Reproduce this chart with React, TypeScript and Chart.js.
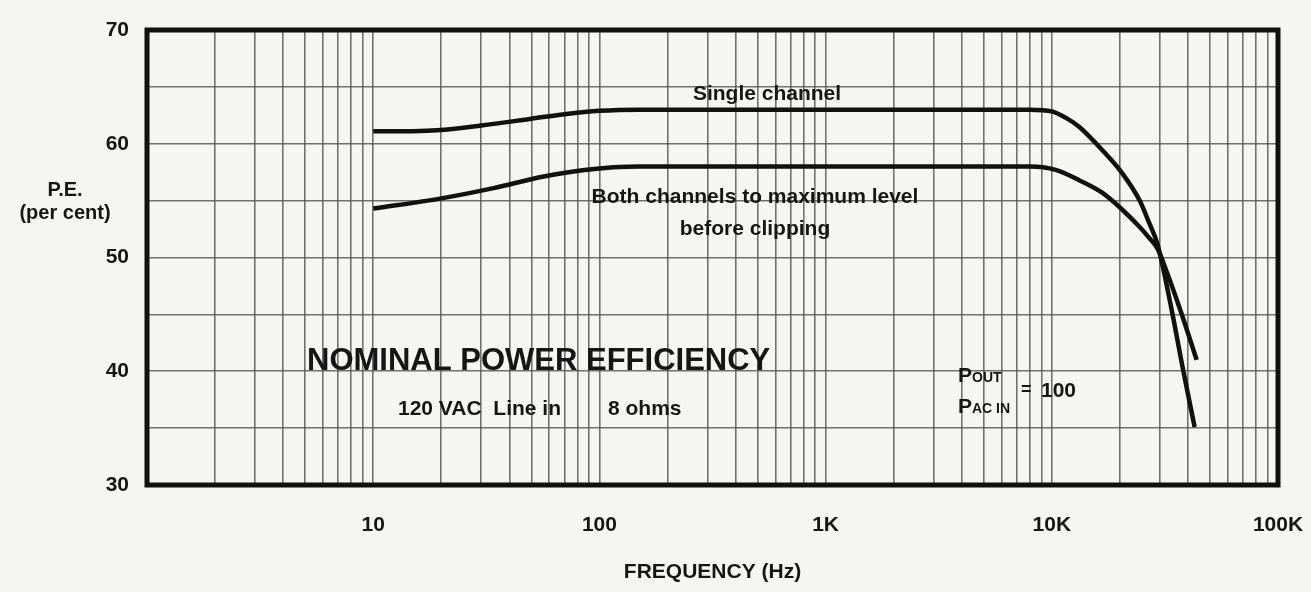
import React, { useEffect, useRef } from "react";
import { Chart, registerables } from "chart.js";

Chart.register(...registerables);

// ---- Data ----
const singleFreq = [10, 15, 20, 30, 50, 70, 100, 150, 1000, 5000, 8000, 10000, 11500, 13200, 16700, 20500, 24400, 27000, 29300, 33800, 38000, 42800];
const singleVals = [61.1, 61.1, 61.2, 61.6, 62.2, 62.6, 62.9, 63.0, 63.0, 63.0, 63.0, 62.85, 62.3, 61.5, 59.45, 57.4, 55.05, 53.0, 51.2, 45.5, 40.2, 35.1];

const bothFreq = [10, 20, 34, 56, 86, 150, 1000, 8000, 10400, 13200, 16700, 20500, 24400, 27000, 29300, 32000, 37400, 43700];
const bothVals = [54.3, 55.2, 56.1, 57.1, 57.7, 58.0, 58.0, 58.0, 57.7, 56.8, 55.7, 54.2, 52.7, 51.7, 50.8, 48.9, 45.1, 41.0];

const xTickValues = [10, 100, 1000, 10000, 100000];
const xTickLabels = ["10", "100", "1K", "10K", "100K"];
const xDecades = [1, 10, 100, 1000, 10000];
const xMultipliers = [1, 2, 3, 4, 5, 6, 7, 8, 9];
const yTickLabels = [30, 40, 50, 60, 70];

const FONT = "'Liberation Sans', Arial, sans-serif";
const INK = "#161616";
const GRID = "rgba(80,80,80,0.8)";
const BG = "#f5f5f3";

const paperPlugin = {
  id: "paper",
  beforeDraw(chart: any) {
    const { ctx, width, height } = chart;
    ctx.save();
    ctx.fillStyle = BG;
    ctx.fillRect(0, 0, width, height);
    ctx.restore();
  },
  beforeDatasetsDraw(chart: any) {
    const { ctx, chartArea: a } = chart;
    ctx.save();
    ctx.strokeStyle = "#111";
    ctx.lineWidth = 5;
    ctx.lineJoin = "miter";
    ctx.strokeRect(a.left, a.top, a.right - a.left, a.bottom - a.top);
    ctx.restore();
  },
  afterDraw(chart: any) {
    const { ctx } = chart;
    ctx.save();
    ctx.fillStyle = INK;
    const t = (s: string, x: number, y: number, size: number, align: CanvasTextAlign = "left") => {
      ctx.font = `bold ${size}px ${FONT}`;
      ctx.textAlign = align;
      ctx.textBaseline = "alphabetic";
      ctx.fillText(s, x, y);
    };
    // Y axis title
    ctx.font = `bold 20px ${FONT}`;
    ctx.textAlign = "center";
    ctx.textBaseline = "middle";
    ctx.fillText("P.E.", 65, 190);
    ctx.fillText("(per cent)", 65, 213);

    t("Single channel", 767, 100, 21, "center");
    t("Both channels to maximum level", 755, 203, 21, "center");
    t("before clipping", 755, 235, 21, "center");
    t("NOMINAL POWER EFFICIENCY", 307, 370, 31);
    t("120 VAC  Line in", 398, 415, 21);
    t("8 ohms", 608, 415, 21);

    // P_OUT / P_AC IN = 100 (small caps)
    t("P", 958, 382, 21);
    ctx.font = `bold 21px ${FONT}`;
    const pw = ctx.measureText("P").width;
    t("OUT", 958 + pw, 382, 14);
    t("P", 958, 413, 21);
    t("AC IN", 958 + pw, 413, 14);
    t("=", 1021, 395, 18);
    t("100", 1041, 397, 21);
    ctx.restore();
  },
};

export default function App() {
  const ref = useRef<HTMLCanvasElement | null>(null);

  useEffect(() => {
    document.body.style.margin = "0";
    const canvas = ref.current;
    if (!canvas) return;

    const gridTicks: number[] = [];
    xDecades.forEach((d) => xMultipliers.forEach((m) => gridTicks.push(m * d)));
    gridTicks.push(100000);

    const chart = new Chart(canvas, {
      type: "line",
      data: {
        datasets: [
          {
            label: "Single channel",
            data: singleFreq.map((f, i) => ({ x: f, y: singleVals[i] })),
            borderColor: "#111",
            borderWidth: 4.5,
            pointRadius: 0,
            fill: false,
            cubicInterpolationMode: "monotone",
          },
          {
            label: "Both channels to maximum level before clipping",
            data: bothFreq.map((f, i) => ({ x: f, y: bothVals[i] })),
            borderColor: "#111",
            borderWidth: 4.5,
            pointRadius: 0,
            fill: false,
            cubicInterpolationMode: "monotone",
          },
        ],
      },
      options: {
        animation: false,
        responsive: true,
        maintainAspectRatio: false,
        layout: { padding: { top: 30, right: 33, left: 0, bottom: 0 } },
        plugins: { legend: { display: false }, tooltip: { enabled: false } },
        scales: {
          x: {
            type: "logarithmic",
            min: 1,
            max: 100000,
            afterBuildTicks: (scale: any) => {
              scale.ticks = gridTicks.map((v) => ({ value: v }));
            },
            afterFit: (scale: any) => {
              scale.height = 107;
              scale.paddingLeft = 0;
              scale.paddingRight = 0;
            },
            grid: { color: GRID, lineWidth: 1.6, drawTicks: false },
            border: { display: false },
            ticks: {
              autoSkip: false,
              maxRotation: 0,
              minRotation: 0,
              padding: 28,
              color: INK,
              font: { family: FONT, size: 21, weight: "bold" },
              callback: (v: any) => {
                const idx = xTickValues.indexOf(Number(v));
                return idx >= 0 ? xTickLabels[idx] : "";
              },
            },
            title: {
              display: true,
              text: "FREQUENCY (Hz)",
              color: INK,
              font: { family: FONT, size: 21, weight: "bold" },
              padding: { top: 0, bottom: 7 },
            },
          },
          y: {
            type: "linear",
            min: 30,
            max: 70,
            afterFit: (scale: any) => {
              scale.width = 147;
              scale.paddingTop = 0;
              scale.paddingBottom = 0;
            },
            grid: { color: GRID, lineWidth: 1.6, drawTicks: false },
            border: { display: false },
            ticks: {
              stepSize: 5,
              padding: 18,
              color: INK,
              font: { family: FONT, size: 21, weight: "bold" },
              callback: (v: any) => (yTickLabels.indexOf(Number(v)) >= 0 ? String(v) : ""),
            },
          },
        },
      },
      plugins: [paperPlugin],
    } as any);

    return () => chart.destroy();
  }, []);

  return (
    <div style={{ position: "absolute", left: 0, top: 0, width: 1311, height: 592 }}>
      <canvas ref={ref} />
    </div>
  );
}
